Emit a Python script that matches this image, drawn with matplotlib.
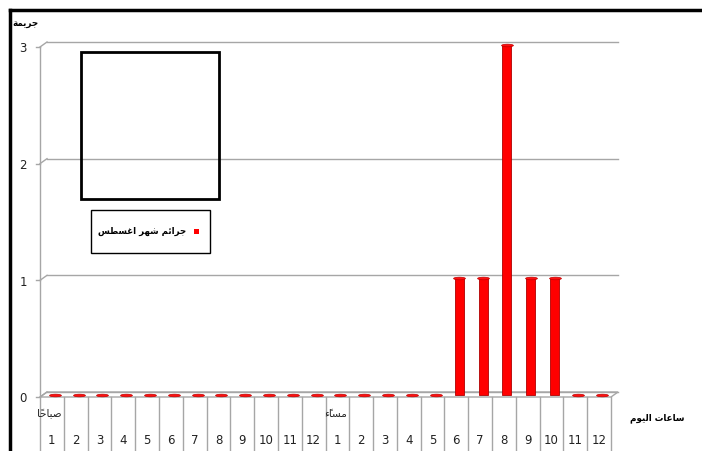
#!/usr/bin/env python3
"""Crimes by hour of day (August) - 3D-style column chart."""

import matplotlib

matplotlib.use("Agg")
import matplotlib.pyplot as plt
import numpy as np
from matplotlib.lines import Line2D
from matplotlib.patches import Rectangle, Polygon
from matplotlib.path import Path
from matplotlib.transforms import offset_copy

# data
hours = [str(h) for h in range(1, 13)] * 2
groups = ["صباحاً", "مساءً"]
crimes = [0] * 12 + [0, 0, 0, 0, 0, 1, 1, 3, 1, 1, 0, 0]
yticks = [0, 1, 2, 3]
series_name = "جرائم شهر اغسطس"
y_title = "جريمة"
x_title = "ساعات اليوم"

# --- minimal arabic shaping (matplotlib has no complex text layout) ---
# (isolated, final, initial, medial); right-joining letters have two forms
FORMS = {
    "ء": (0xFE80,),
    "ا": (0xFE8D, 0xFE8E),
    "ئ": (0xFE89, 0xFE8A, 0xFE8B, 0xFE8C),
    "ب": (0xFE8F, 0xFE90, 0xFE91, 0xFE92),
    "ة": (0xFE93, 0xFE94),
    "ت": (0xFE95, 0xFE96, 0xFE97, 0xFE98),
    "ج": (0xFE9D, 0xFE9E, 0xFE9F, 0xFEA0),
    "ح": (0xFEA1, 0xFEA2, 0xFEA3, 0xFEA4),
    "ر": (0xFEAD, 0xFEAE),
    "س": (0xFEB1, 0xFEB2, 0xFEB3, 0xFEB4),
    "ش": (0xFEB5, 0xFEB6, 0xFEB7, 0xFEB8),
    "ص": (0xFEB9, 0xFEBA, 0xFEBB, 0xFEBC),
    "ط": (0xFEC1, 0xFEC2, 0xFEC3, 0xFEC4),
    "ع": (0xFEC9, 0xFECA, 0xFECB, 0xFECC),
    "غ": (0xFECD, 0xFECE, 0xFECF, 0xFED0),
    "ل": (0xFEDD, 0xFEDE, 0xFEDF, 0xFEE0),
    "م": (0xFEE1, 0xFEE2, 0xFEE3, 0xFEE4),
    "ه": (0xFEE9, 0xFEEA, 0xFEEB, 0xFEEC),
    "و": (0xFEED, 0xFEEE),
    "ي": (0xFEF1, 0xFEF2, 0xFEF3, 0xFEF4),
}


def is_mark(c):
    return "\u064b" <= c <= "\u0652"


def shape(text):
    chars = list(text)
    out = []
    for i, c in enumerate(chars):
        if c not in FORMS:
            out.append(c)
            continue
        j = i - 1
        while j >= 0 and is_mark(chars[j]):
            j -= 1
        k = i + 1
        while k < len(chars) and is_mark(chars[k]):
            k += 1
        prev = chars[j] if j >= 0 else None
        nxt = chars[k] if k < len(chars) else None
        f = FORMS[c]
        jp = prev in FORMS and len(FORMS[prev]) == 4
        jn = len(f) == 4 and nxt in FORMS and len(FORMS[nxt]) > 1
        if len(f) == 1:
            g = f[0]
        elif jp and jn:
            g = f[3]
        elif jp:
            g = f[1]
        elif jn:
            g = f[2]
        else:
            g = f[0]
        out.append(chr(g))
    clusters = []
    for c in out:
        if is_mark(c) and clusters:
            clusters[-1] += c
        else:
            clusters.append(c)
    return "".join(reversed(clusters))


W, H = 702, 451
fig = plt.figure(figsize=(W / 100, H / 100), dpi=100)


def fx(x):
    return x / W


def fy(y):
    return 1 - y / H


GRID = "#a6a6a6"
RED = "#ff0000"
TXT = "#222222"
DX, DY = 7, 5  # depth offset of the back wall (pixels)

ax = fig.add_axes([fx(40), fy(397), (611 - 40) / W, (397 - 47) / H])
n = len(crimes)
ax.set_xlim(-0.5, n - 0.5)
ax.set_ylim(0, 3)
ax.set_axis_off()

back = offset_copy(ax.transData, fig=fig, x=DX, y=DY, units="dots")
mid = offset_copy(ax.transData, fig=fig, x=3, y=2, units="dots")


def px(x, y, dx=0, dy=0):
    a, b = ax.transData.transform((x, y))
    return a + dx, b + dy


# floor
pts = [px(-0.5, 0), px(n - 0.5, 0), px(n - 0.5, 0, DX, DY), px(-0.5, 0, DX, DY)]
ax.add_patch(Polygon(pts, closed=True, facecolor="white", edgecolor=GRID,
                     lw=1, transform=None, zorder=1, clip_on=False))

# gridlines on back wall + diagonals + ticks
for v in yticks:
    ax.plot([-0.5, n - 0.5], [v, v], color=GRID, lw=1, transform=back,
            clip_on=False, zorder=1)
    (x0, y0), (x1, y1) = px(-0.5, v), px(-0.5, v, DX, DY)
    ax.add_line(Line2D([x0, x1], [y0, y1], color=GRID, lw=1, transform=None,
                       clip_on=False, zorder=1))
    ax.add_line(Line2D([x0 - 4, x0], [y0, y0], color=GRID, lw=1, transform=None,
                       clip_on=False, zorder=1))
    ax.text(-0.5, v, str(v),
            transform=offset_copy(ax.transData, fig=fig, x=-17, y=-2, units="dots"),
            ha="center", va="center", fontsize=8.5, color=TXT)

# y axis line and category dividers down to the figure bottom
ybot = -(H - 397) / (397 - 47) * 3 - 0.1
ax.plot([-0.5, -0.5], [ybot, 3], color=GRID, lw=1, clip_on=False, zorder=1)
for k in range(1, n + 1):
    ax.plot([k - 0.5, k - 0.5], [ybot, 0], color=GRID, lw=1, clip_on=False, zorder=1)

# bars (cylinders)
xs = np.arange(n)
ax.bar(xs, crimes, width=0.38, color=RED, edgecolor="#b00000", lw=0.6,
       transform=mid, zorder=3, clip_on=False)
t = np.linspace(0, 2 * np.pi, 40)
ell = Path(np.column_stack([np.cos(t), 0.22 * np.sin(t)]))
ax.plot(xs, crimes, ls="none", marker=ell, ms=8.5, mfc="#ff1010", mec="#c00000",
        mew=0.5, transform=mid, zorder=4, clip_on=False)

# category labels
lab_y = fy(440)
for i, h in enumerate(hours):
    x_fig = (40 + (i + 0.5) * (611 - 40) / n) / W
    fig.text(x_fig, lab_y, h, ha="center", va="center", fontsize=8.5, color=TXT)
fig.text(fx(37), fy(414), shape(groups[0]), ha="left", va="center",
         fontsize=7.5, color=TXT, family="DejaVu Sans")
fig.text(fx(324), fy(414), shape(groups[1]), ha="left", va="center",
         fontsize=7.5, color=TXT, family="DejaVu Sans")

# axis titles
fig.text(fx(25), fy(24), shape(y_title), ha="center", va="center",
         fontsize=6.3, fontweight="bold", family="DejaVu Sans")
fig.text(fx(657), fy(418), shape(x_title), ha="center", va="center",
         fontsize=6.3, fontweight="bold", family="DejaVu Sans")

# empty title box
fig.add_artist(Rectangle((fx(81), fy(199)), fx(219) - fx(81), fy(52) - fy(199),
                         fill=False, edgecolor="black", lw=2))
# legend box
fig.add_artist(Rectangle((fx(91), fy(253)), fx(210) - fx(91), fy(210) - fy(253),
                         fill=False, edgecolor="black", lw=1))
fig.add_artist(Rectangle((fx(194), fy(234)), 5 / W, 5 / H, facecolor=RED,
                         edgecolor="none"))
fig.text(fx(186), fy(231), shape(series_name), ha="right", va="center",
         fontsize=6.2, fontweight="bold", family="DejaVu Sans")

# outer chart border (top and left edges only are inside the picture)
fig.add_artist(Line2D([fx(10), 1.0], [fy(10), fy(10)], color="black", lw=2.5))
fig.add_artist(Line2D([fx(10), fx(10)], [0, fy(10)], color="black", lw=2.5))

fig.savefig("out.png", dpi=100)
